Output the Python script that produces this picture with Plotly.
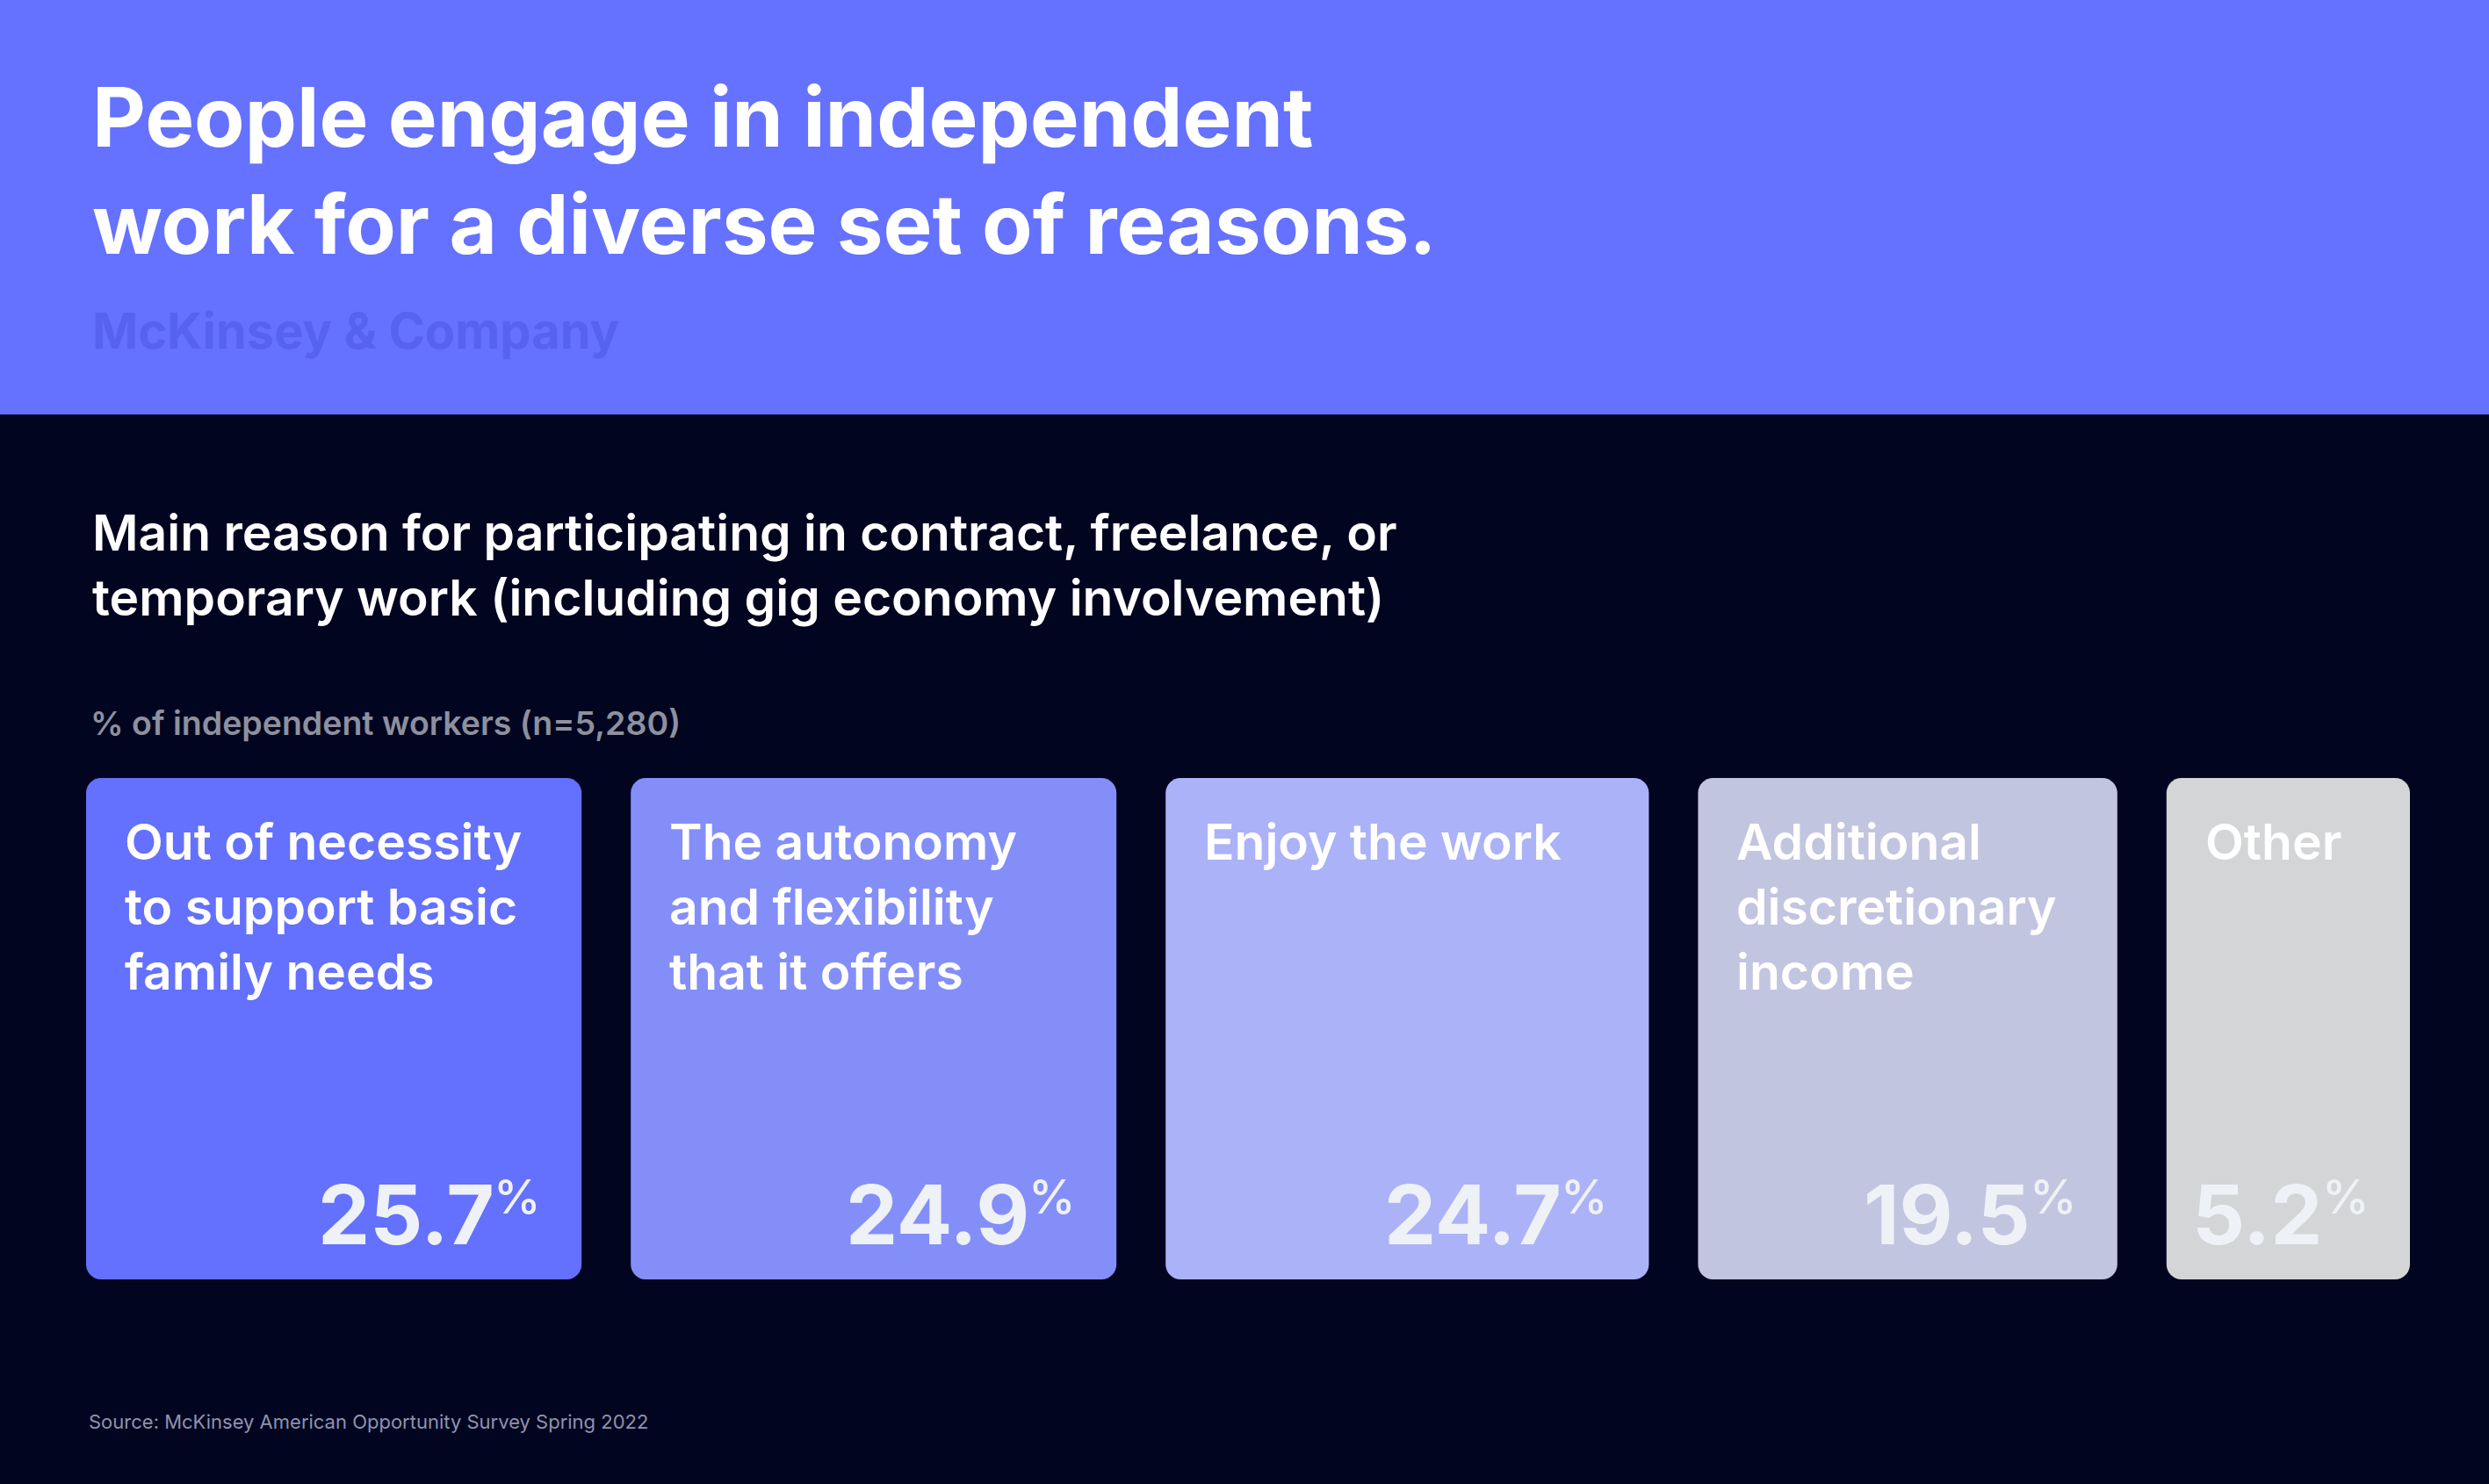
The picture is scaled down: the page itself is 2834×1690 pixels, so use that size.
import plotly.graph_objects as go

# data
reasons = [
    "Out of necessity<br>to support basic<br>family needs",
    "The autonomy<br>and flexibility<br>that it offers",
    "Enjoy the work",
    "Additional<br>discretionary<br>income",
    "Other",
]
shares = [25.7, 24.9, 24.7, 19.5, 5.2]
card_colors = ["#6470FE", "#848EF9", "#ABB2F8", "#C2C5E0", "#D4D5D7"]

title = "People engage in independent<br>work for a diverse set of reasons."
brand = "McKinsey & Company"
subtitle = ("Main reason for participating in contract, freelance, or<br>"
            "temporary work (including gig economy involvement)")
unit_note = "% of independent workers (n=5,280)"
source = "Source: McKinsey American Opportunity Survey Spring 2022"

W, H = 2834, 1690
BG = "#020520"
HEADER = "#6571FF"
FONT = "Inter"

# card geometry: width grows with the share, plus a fixed padding
PX_PER_UNIT = 14.0
PAD = 14.6
GAP = 4.0
LEFT_PX = 98
CARD_TOP, CARD_BOTTOM = 886, 1457
RADIUS = 17

widths = [v + PAD for v in shares]
lefts = []
pos = 0.0
for w in widths:
    lefts.append(pos)
    pos += w + GAP
rights = [l + w for l, w in zip(lefts, widths)]

x0 = -LEFT_PX / PX_PER_UNIT
x1 = x0 + W / PX_PER_UNIT


def px(x):
    return x / W


def rounded_rect(xa, xb, ya, yb, r):
    # x in axis units, y in pixels (reversed axis), r in pixels
    rx = r / PX_PER_UNIT
    k = 0.5523
    return (
        f"M {xa + rx},{ya} L {xb - rx},{ya} "
        f"C {xb - rx + k * rx},{ya} {xb},{ya + r - k * r} {xb},{ya + r} "
        f"L {xb},{yb - r} "
        f"C {xb},{yb - r + k * r} {xb - rx + k * rx},{yb} {xb - rx},{yb} "
        f"L {xa + rx},{yb} "
        f"C {xa + rx - k * rx},{yb} {xa},{yb - r + k * r} {xa},{yb - r} "
        f"L {xa},{ya + r} "
        f"C {xa},{ya + r - k * r} {xa + rx - k * rx},{ya} {xa + rx},{ya} Z"
    )


fig = go.Figure()

shapes = [dict(type="rect", xref="paper", yref="y", x0=0, x1=1, y0=0, y1=472,
               fillcolor=HEADER, line=dict(width=0), layer="below")]
for i in range(len(shares)):
    shapes.append(dict(type="path", xref="x", yref="y",
                       path=rounded_rect(lefts[i], rights[i], CARD_TOP, CARD_BOTTOM, RADIUS),
                       fillcolor=card_colors[i], line=dict(width=0), layer="below"))

annotations = [
    dict(text=title, x=px(103), y=74, xref="paper", yref="y", xanchor="left", yanchor="top",
         align="left", showarrow=False, font=dict(family=FONT, size=94, color="white", weight=700)),
    dict(text=brand, x=px(103), y=341, xref="paper", yref="y", xanchor="left", yanchor="top",
         showarrow=False, font=dict(family=FONT, size=56, color="#5663EE", weight=700)),
    dict(text=subtitle, x=px(103), y=570, xref="paper", yref="y", xanchor="left", yanchor="top",
         align="left", showarrow=False, font=dict(family=FONT, size=57, color="white", weight=600)),
    dict(text=unit_note, x=px(101), y=799, xref="paper", yref="y", xanchor="left", yanchor="top",
         showarrow=False, font=dict(family=FONT, size=37.5, color="#8E909E", weight=600)),
    dict(text=source, x=px(99), y=1604, xref="paper", yref="y", xanchor="left", yanchor="top",
         showarrow=False, font=dict(family=FONT, size=22, color="#8E93AE", weight=400)),
]

for i, (label, v) in enumerate(zip(reasons, shares)):
    annotations.append(dict(
        text=label, x=lefts[i] + 42 / PX_PER_UNIT, y=922, xref="x", yref="y",
        xanchor="left", yanchor="top", align="left", showarrow=False,
        font=dict(family=FONT, size=57, color="white", weight=600),
    ))
    annotations.append(dict(
        text=f"{v:.1f}", x=rights[i] - 98 / PX_PER_UNIT, y=1441, xref="x", yref="y",
        xanchor="right", yanchor="bottom", showarrow=False, borderpad=0,
        font=dict(family=FONT, size=94, color="#EEF1F6", weight=700),
    ))
    annotations.append(dict(
        text="%", x=rights[i] - 45 / PX_PER_UNIT, y=1329, xref="x", yref="y",
        xanchor="right", yanchor="top", showarrow=False, borderpad=0,
        font=dict(family=FONT, size=54, color="#EEF1F6", weight=500),
    ))

fig.update_layout(
    width=W, height=H,
    margin=dict(l=0, r=0, t=0, b=0),
    paper_bgcolor=BG, plot_bgcolor=BG,
    xaxis=dict(range=[x0, x1], visible=False, fixedrange=True),
    yaxis=dict(range=[H, 0], visible=False, fixedrange=True),
    shapes=shapes,
    annotations=annotations,
)

fig.write_html(
    "out.html",
    config={"displayModeBar": False},
    post_script="document.body.style.margin='0';document.body.style.background='#020520';",
)
